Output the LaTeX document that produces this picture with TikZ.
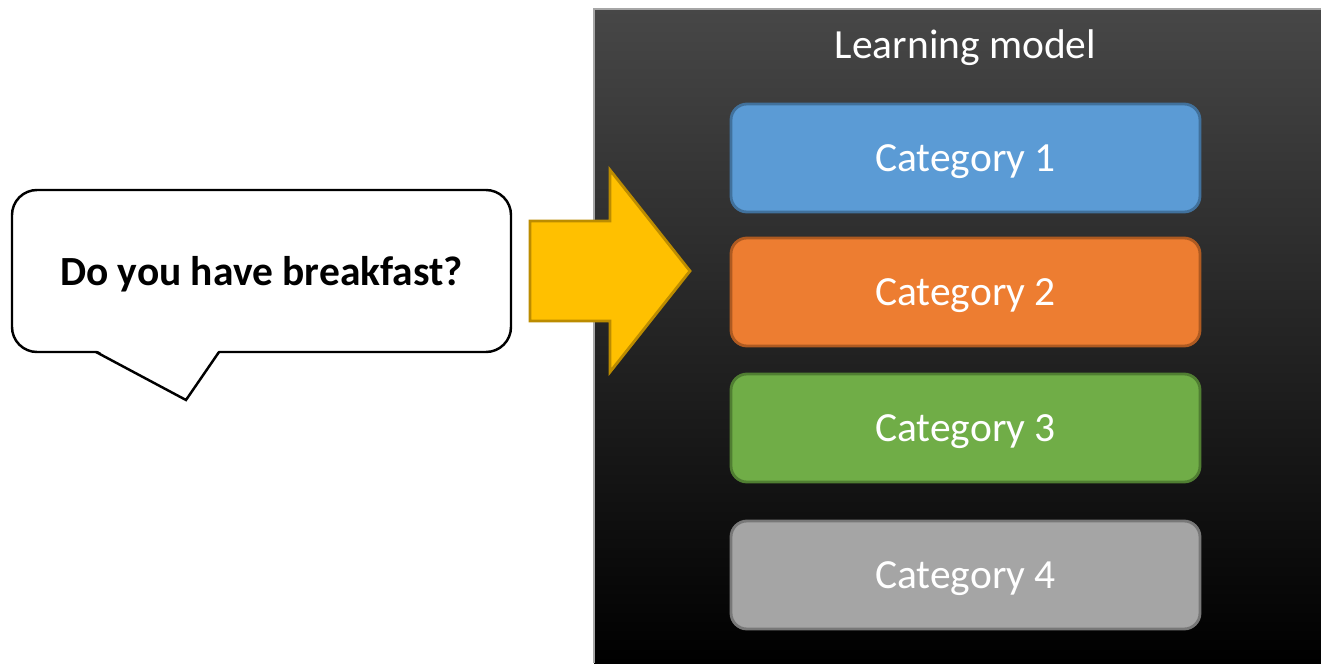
\documentclass[tikz,border=0pt]{standalone}
\usepackage{fontspec}
\setmainfont{Carlito}
\usetikzlibrary{calc}

\definecolor{catblue}{HTML}{5B9BD5}
\definecolor{catblueline}{HTML}{41719C}
\definecolor{catorange}{HTML}{ED7D31}
\definecolor{catorangeline}{HTML}{AE5A21}
\definecolor{catgreen}{HTML}{70AD47}
\definecolor{catgreenline}{HTML}{507E32}
\definecolor{catgray}{HTML}{A5A5A5}
\definecolor{catgrayline}{HTML}{787878}
\definecolor{arrowgold}{HTML}{FFC000}
\definecolor{arrowgoldline}{HTML}{BC8C00}
\definecolor{modeltop}{HTML}{474747}

\tikzset{
  catbox/.style={draw=#1line, fill=#1, line width=0.8pt, rounded corners=0.16cm,
    minimum width=4.69cm, minimum height=1.08cm, text=white, text depth=0pt,
    font=\fontsize{11.8}{14}\selectfont},
  bubble/.style={draw, fill=white, line width=0.7pt, rounded corners=0.25cm,
    minimum width=4.99cm, minimum height=1.62cm, text depth=0pt,
    font=\fontsize{11.8}{14}\selectfont\bfseries}
}

\begin{document}
\begin{tikzpicture}
      \useasboundingbox (0,0) rectangle (13.21,6.63);
      % model panel
      \shade[top color=modeltop, middle color=black, bottom color=black]
        (5.94,0) rectangle (13.21,6.54);
      \draw[gray!70, line width=0.5pt] (5.94,0) -- (5.94,6.54) -- (13.21,6.54);
      \node[text=white, text depth=0pt, font=\fontsize{11.8}{14}\selectfont] (title) at (9.655,6.19) {Learning model};
      \node[catbox=catblue] (cat1) at (9.655,5.05) {Category 1};
      \node[catbox=catorange] (cat2) at (9.655,3.71) {Category 2};
      \node[catbox=catgreen] (cat3) at (9.655,2.35) {Category 3};
      \node[catbox=catgray] (cat4) at (9.655,0.88) {Category 4};
      % speech bubble
      \node[bubble] (question) at (2.615,3.92) {Do you have breakfast?};
      \coordinate (tailL) at (0.96,3.11);
      \coordinate (tailR) at (2.19,3.11);
      \coordinate (tailTip) at (1.86,2.63);
      \fill[white] ([yshift=0.6pt]tailL) -- (tailTip) -- ([yshift=0.6pt]tailR) -- cycle;
      \draw[line width=0.7pt] (tailL) -- (tailTip) -- (tailR);
      % big arrow
      \draw[fill=arrowgold, draw=arrowgoldline, line width=0.8pt]
        (5.30,4.42) -- (6.10,4.42) -- (6.10,4.93) -- (6.90,3.92)
        -- (6.10,2.91) -- (6.10,3.42) -- (5.30,3.42) -- cycle;
    \end{tikzpicture}
\end{document}
